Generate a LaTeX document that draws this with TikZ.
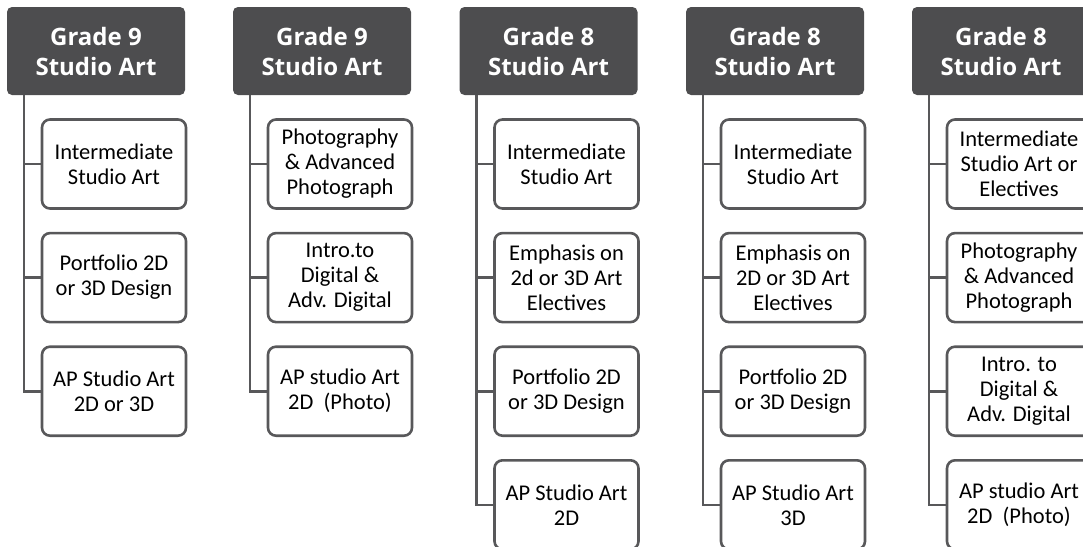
\documentclass[tikz,border=0pt]{standalone}
\usepackage{fontspec}
\setmainfont{Carlito}
\newfontfamily\headfont{Open Sans}
\usetikzlibrary{positioning}
\definecolor{headgray}{HTML}{4D4D4F}
\definecolor{edgegray}{HTML}{58585A}

\begin{document}
\begin{tikzpicture}[x=1pt,y=1pt,node distance=22pt,
	head/.style={fill=headgray, rounded corners=5pt, minimum width=178pt, minimum height=88pt, inner sep=0pt, text=white, align=center, font=\headfont\bfseries\fontsize{24}{30}\selectfont},
	item/.style={draw=edgegray, line width=2.6pt, fill=white, rounded corners=8pt, minimum width=144pt, minimum height=89pt, inner sep=0pt, align=center, font=\fontsize{22.5}{25}\selectfont},
	link/.style={draw=edgegray, line width=2.6pt}]
	\useasboundingbox (0,0) rectangle (1083,-546);

	% first column
	\node[head] (h1) at (96,-51) {Grade 9\\Studio Art};
	\node[item] (a1) at (114,-164) {Intermediate\\Studio Art};
	\node[item, below=of a1] (a2) {Portfolio 2D\\or 3D Design};
	\node[item, below=of a2] (a3) {AP Studio Art\\2D or 3D};
	\coordinate (t1) at ([xshift=17pt]h1.south west);
	\foreach \k in {1,2,3}
		\draw[link] (t1) |- (a\k.west);

	% second column
	\node[head] (h2) at (322,-51) {Grade 9\\Studio Art};
	\node[item] (b1) at (340,-164) {Photography\\\& Advanced\\Photograph};
	\node[item, below=of b1] (b2) {Intro.to\\Digital \&\\Adv. Digital};
	\node[item, below=of b2] (b3) {AP studio Art\\2D~~(Photo)};
	\coordinate (t2) at ([xshift=17pt]h2.south west);
	\foreach \k in {1,2,3}
		\draw[link] (t2) |- (b\k.west);

	% third column
	\node[head] (h3) at (548.5,-51) {Grade 8\\Studio Art};
	\node[item] (c1) at (566.5,-164) {Intermediate\\Studio Art};
	\node[item, below=of c1] (c2) {Emphasis on\\2d or 3D Art\\Electives};
	\node[item, below=of c2] (c3) {Portfolio 2D\\or 3D Design};
	\node[item, below=of c3] (c4) {AP Studio Art\\2D};
	\coordinate (t3) at ([xshift=17pt]h3.south west);
	\foreach \k in {1,2,3,4}
		\draw[link] (t3) |- (c\k.west);

	% fourth column
	\node[head] (h4) at (775,-51) {Grade 8\\Studio Art};
	\node[item] (d1) at (793,-164) {Intermediate\\Studio Art};
	\node[item, below=of d1] (d2) {Emphasis on\\2D or 3D Art\\Electives};
	\node[item, below=of d2] (d3) {Portfolio 2D\\or 3D Design};
	\node[item, below=of d3] (d4) {AP Studio Art\\3D};
	\coordinate (t4) at ([xshift=17pt]h4.south west);
	\foreach \k in {1,2,3,4}
		\draw[link] (t4) |- (d\k.west);

	% fifth column
	\node[head] (h5) at (1001,-51) {Grade 8\\Studio Art};
	\node[item] (e1) at (1019,-164) {Intermediate\\Studio Art or\\Electives};
	\node[item, below=of e1] (e2) {Photography\\\& Advanced\\Photograph};
	\node[item, below=of e2] (e3) {Intro. to\\Digital \&\\Adv. Digital};
	\node[item, below=of e3] (e4) {AP studio Art\\2D~~(Photo)};
	\coordinate (t5) at ([xshift=17pt]h5.south west);
	\foreach \k in {1,2,3,4}
		\draw[link] (t5) |- (e\k.west);
\end{tikzpicture}
\end{document}
